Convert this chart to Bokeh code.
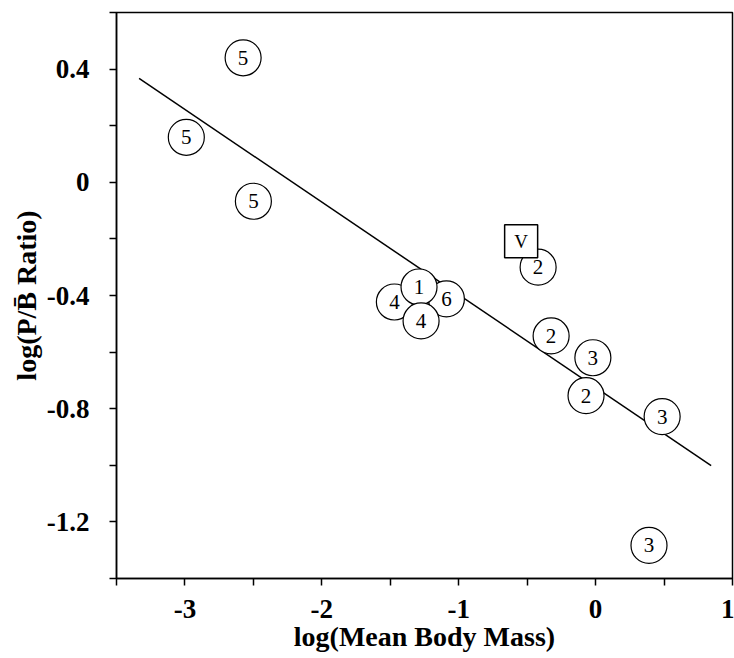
from bokeh.plotting import figure
from bokeh.models import FixedTicker, Range1d, ColumnDataSource
from bokeh.core.properties import value
from bokeh.embed import file_html
from bokeh.resources import INLINE

# ---- data ----
circ_x = [-2.575, -2.99, -2.50, -0.42, -1.47, -1.09, -1.29, -1.275, -0.325, -0.02, -0.07, 0.486, 0.39]
circ_y = [0.44, 0.159, -0.067, -0.30, -0.423, -0.412, -0.37, -0.49, -0.543, -0.62, -0.754, -0.828, -1.283]
circ_lab = ["5", "5", "5", "2", "4", "6", "1", "4", "2", "3", "2", "3", "3"]

sq_x = [-0.544]
sq_y = [-0.208]
sq_lab = ["V"]

fit_x = [-3.335, 0.844]
fit_y = [0.367, -1.001]

x_ticks = [-3, -2, -1, 0, 1]
x_tick_labels = ["-3", "-2", "-1", "0", "1"]
x_minor = [-3.5, -2.5, -1.5, -0.5, 0.5]
y_ticks = [-1.2, -0.8, -0.4, 0, 0.4]
y_tick_labels = ["-1.2", "-0.8", "-0.4", "0", "0.4"]
y_minor = [-1.4, -1.0, -0.6, -0.2, 0.2, 0.6]

SERIF = "Liberation Serif"

p = figure(width=734, height=656, output_backend="svg", toolbar_location=None,
           x_range=Range1d(-3.5, 1.0), y_range=Range1d(-1.4, 0.6),
           min_border_left=116, min_border_right=2, min_border_top=12, min_border_bottom=78)
p.grid.visible = False
p.outline_line_color = "black"
p.outline_line_width = 1.5
p.background_fill_color = "white"
p.border_fill_color = "white"

p.xaxis.ticker = FixedTicker(ticks=x_ticks, minor_ticks=x_minor)
p.yaxis.ticker = FixedTicker(ticks=y_ticks, minor_ticks=y_minor)
p.xaxis.major_label_overrides = dict(zip(x_ticks, x_tick_labels))
p.yaxis.major_label_overrides = dict(zip(y_ticks, y_tick_labels))

for ax in (p.xaxis[0], p.yaxis[0]):
    ax.axis_line_color = "black"
    ax.axis_line_width = 1.5
    ax.major_tick_line_color = "black"
    ax.minor_tick_line_color = "black"
    ax.major_tick_line_width = 1.5
    ax.minor_tick_line_width = 1.5
    ax.major_tick_out = 7
    ax.major_tick_in = 0
    ax.minor_tick_out = 7
    ax.minor_tick_in = 0
    ax.major_label_text_font = SERIF
    ax.major_label_text_font_style = "bold"
    ax.major_label_text_font_size = "27px"
    ax.major_label_text_color = "black"
    ax.axis_label_text_font = SERIF
    ax.axis_label_text_font_style = "bold"
    ax.axis_label_text_font_size = "28px"
    ax.axis_label_text_color = "black"

p.xaxis.axis_label = "log(Mean Body Mass)"
p.yaxis.axis_label = "log(P/B\u0304 Ratio)"
p.xaxis.major_label_standoff = 14
p.yaxis.major_label_standoff = 20
p.xaxis.axis_label_standoff = 0
p.yaxis.axis_label_standoff = 2

p.line(fit_x, fit_y, line_color="black", line_width=1.5)

csrc = ColumnDataSource(dict(x=circ_x, y=circ_y, t=circ_lab))
p.scatter("x", "y", source=csrc, marker="circle", size=36,
          fill_color="white", line_color="black", line_width=1.2)
p.text("x", "y", text="t", source=csrc, text_align="center", text_baseline="middle",
       text_font=value(SERIF), text_font_size="21px", text_color="black")

ssrc = ColumnDataSource(dict(x=sq_x, y=sq_y, t=sq_lab))
p.scatter("x", "y", source=ssrc, marker="square", size=33,
          fill_color="white", line_color="black", line_width=1.5)
p.text("x", "y", text="t", source=ssrc, text_align="center", text_baseline="middle",
       text_font=value(SERIF), text_font_size="19px", text_color="black")

open("out.html", "w").write(file_html(p, INLINE))
